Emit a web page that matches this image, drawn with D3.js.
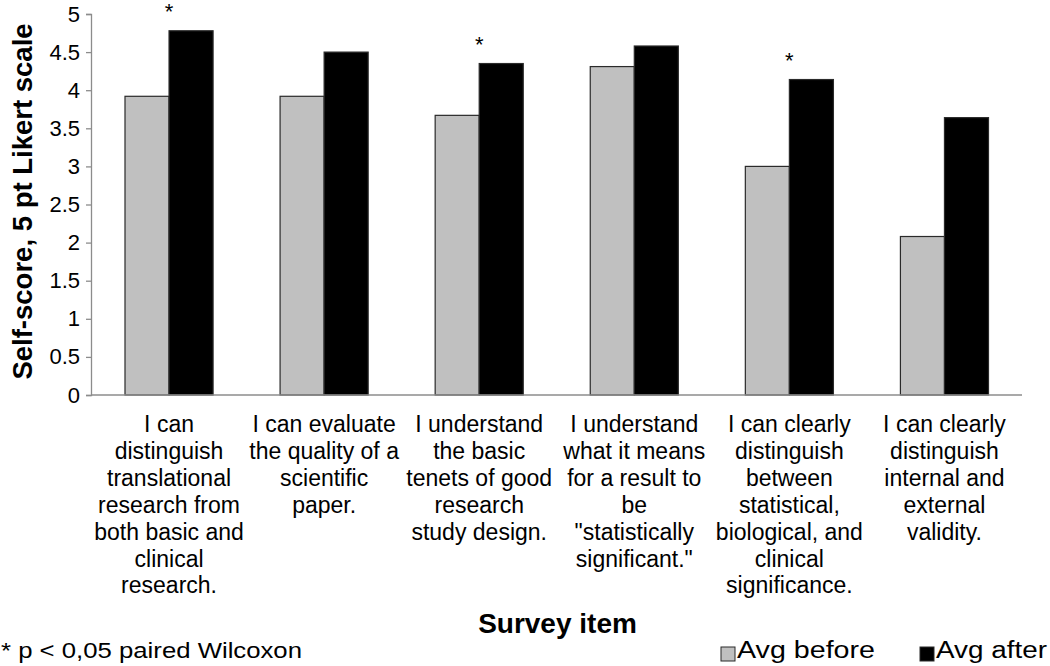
<!DOCTYPE html>
<html>
<head>
<meta charset="utf-8">
<script src="https://cdn.jsdelivr.net/npm/d3@7"></script>
<style>
  body { margin: 0; background: #fff; }
  text { font-family: "Liberation Sans", Arial, sans-serif; fill: #000; }
</style>
</head>
<body>
<div id="chart"></div>
<script>
// Chart data
//= ================================
var categories = [
  ["I can", "distinguish", "translational", "research from", "both basic and", "clinical", "research."],
  ["I can evaluate", "the quality of a", "scientific", "paper."],
  ["I understand", "the basic", "tenets of good", "research", "study design."],
  ["I understand", "what it means", "for a result to", "be", "\"statistically", "significant.\""],
  ["I can clearly", "distinguish", "between", "statistical,", "biological, and", "clinical", "significance."],
  ["I can clearly", "distinguish", "internal and", "external", "validity."]
];
var avgBefore = [3.92, 3.92, 3.67, 4.31, 3.0, 2.08];
var avgAfter = [4.78, 4.50, 4.35, 4.58, 4.14, 3.64];
var significant = [true, false, true, false, true, false];
var seriesNames = ["Avg before", "Avg after"];
var seriesColors = ["#c0c0c0", "#000000"];
var yTicks = [0, 0.5, 1, 1.5, 2, 2.5, 3, 3.5, 4, 4.5, 5];

// Set up the svg
//= ================================
var svgWidth = 1050;
var svgHeight = 666;

var margin = { top: 14, right: 28, bottom: 271, left: 91 };
var width = svgWidth - margin.left - margin.right;
var height = svgHeight - margin.top - margin.bottom;

var svg = d3.select("#chart")
  .append("svg")
  .attr("width", svgWidth)
  .attr("height", svgHeight);

var chartGroup = svg.append("g")
  .attr("transform", `translate(${margin.left}, ${margin.top})`);

// Scales
var idx = d3.range(categories.length);
var xScale = d3.scaleBand()
  .domain(idx)
  .range([0.5, width])
  .paddingInner(0.432)
  .paddingOuter(0.216);

var xSub = d3.scaleBand()
  .domain([0, 1])
  .range([0, xScale.bandwidth()]);

var yScale = d3.scaleLinear()
  .domain([0, 5])
  .range([height, 0]);

// Y axis
var leftAxis = d3.axisLeft(yScale)
  .tickValues(yTicks)
  .tickSize(5)
  .tickPadding(6)
  .tickFormat(d => String(d));

var yAxis = chartGroup.append("g").call(leftAxis);
yAxis.select(".domain").attr("stroke", "#8c8c8c").attr("stroke-width", 1.3);
yAxis.selectAll(".tick line").attr("stroke", "#8c8c8c").attr("stroke-width", 1.3);
yAxis.selectAll(".tick text")
  .attr("font-size", "22px")
  .attr("font-family", "Liberation Sans, Arial, sans-serif")
  .attr("fill", "#000");

// Bars
var rows = idx.map(i => ({ i: i, vals: [avgBefore[i], avgAfter[i]] }));

var groups = chartGroup.selectAll(".cat")
  .data(rows)
  .enter()
  .append("g")
  .attr("class", "cat")
  .attr("transform", d => `translate(${xScale(d.i)}, 0)`);

groups.selectAll("rect")
  .data(d => d.vals.map((v, s) => ({ v: v, s: s })))
  .enter()
  .append("rect")
  .attr("x", d => xSub(d.s))
  .attr("y", d => yScale(d.v))
  .attr("width", xSub.bandwidth())
  .attr("height", d => height - yScale(d.v))
  .attr("fill", d => seriesColors[d.s])
  .attr("stroke", "#2a2a2a")
  .attr("stroke-width", 1.2);

// significance asterisks
groups.filter(d => significant[d.i])
  .append("text")
  .attr("x", xScale.bandwidth() / 2)
  .attr("y", d => yScale(d.vals[1]) - 12)
  .attr("text-anchor", "middle")
  .attr("font-size", "22px")
  .text("*");

// X axis line
chartGroup.append("line")
  .attr("x1", 0)
  .attr("x2", width)
  .attr("y1", height)
  .attr("y2", height)
  .attr("stroke", "#8c8c8c")
  .attr("stroke-width", 1.3);

// Category labels
var labels = chartGroup.selectAll(".cat-label")
  .data(rows)
  .enter()
  .append("text")
  .attr("class", "cat-label")
  .attr("text-anchor", "middle")
  .attr("font-size", "23px")
  .attr("transform", d => `translate(${xScale(d.i) + xScale.bandwidth() / 2}, ${height + 37})`);

labels.selectAll("tspan")
  .data(d => categories[d.i])
  .enter()
  .append("tspan")
  .attr("x", 0)
  .attr("y", (d, k) => k * 26.9)
  .text(d => d);

// Axis titles
chartGroup.append("text")
  .attr("transform", "rotate(-90)")
  .attr("x", -187.5)
  .attr("y", 32 - margin.left)
  .attr("text-anchor", "middle")
  .attr("font-size", "27.5px")
  .attr("font-weight", "bold")
  .text("Self-score, 5 pt Likert scale");

svg.append("text")
  .attr("x", 557.5)
  .attr("y", 633)
  .attr("text-anchor", "middle")
  .attr("font-size", "28px")
  .attr("font-weight", "bold")
  .text("Survey item");

// Footnote
svg.append("text")
  .attr("x", 1)
  .attr("y", 658)
  .attr("font-size", "22px")
  .attr("textLength", 301)
  .attr("lengthAdjust", "spacingAndGlyphs")
  .text("* p < 0,05 paired Wilcoxon");

// Legend
var legendX = [721, 920];
var legendLen = [138, 111];
var legend = svg.selectAll(".legend")
  .data(seriesNames)
  .enter()
  .append("g")
  .attr("class", "legend")
  .attr("transform", (d, i) => `translate(${legendX[i]}, 647)`);

legend.append("rect")
  .attr("x", 0)
  .attr("y", 0)
  .attr("width", 14)
  .attr("height", 14)
  .attr("fill", (d, i) => seriesColors[i])
  .attr("stroke", "#2a2a2a")
  .attr("stroke-width", 1);

legend.append("text")
  .attr("x", 16)
  .attr("y", 11)
  .attr("font-size", "23px")
  .attr("textLength", (d, i) => legendLen[i])
  .attr("lengthAdjust", "spacingAndGlyphs")
  .text(d => d);
</script>
</body>
</html>
